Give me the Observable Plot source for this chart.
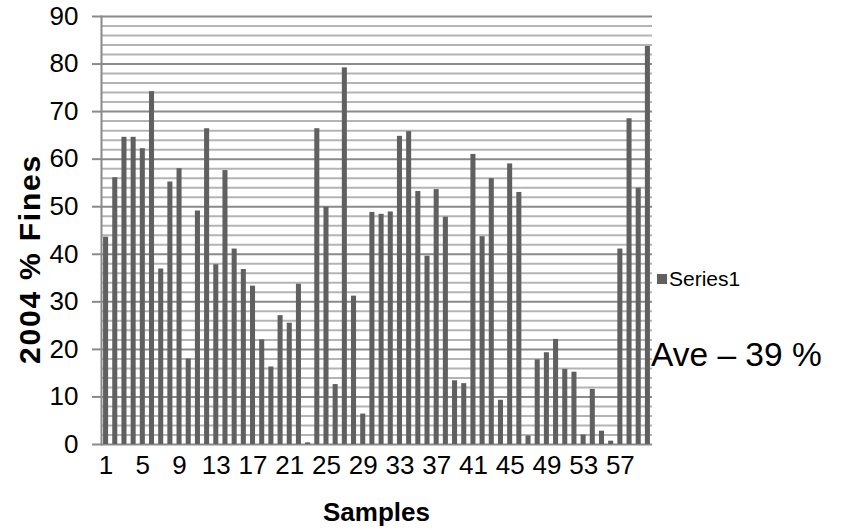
<!DOCTYPE html>
<html>
<head>
<meta charset="utf-8">
<script src="https://cdn.jsdelivr.net/npm/d3@7"></script>
<script src="https://cdn.jsdelivr.net/npm/@observablehq/plot@0.6"></script>
<style>
  html, body { margin: 0; padding: 0; background: #fff; }
  body { font-family: "Liberation Sans", Arial, sans-serif; }
  #wrap { position: relative; width: 858px; height: 530px; overflow: hidden; }
  #legend { position: absolute; left: 657px; top: 267px; font-size: 21px; line-height: 24px; color: #000; white-space: nowrap; }
  #legend .sw { display: inline-block; width: 10px; height: 10px; background: #606060; margin-right: 2px; vertical-align: 2px; }
  #ave { position: absolute; left: 651px; top: 336px; font-size: 33.5px; line-height: 38px; color: #000; white-space: nowrap; }
  #ytitle { position: absolute; left: 30px; top: 259px; transform: translate(-50%, -50%) rotate(-90deg);
            font-size: 30px; font-weight: bold; letter-spacing: 1.8px; white-space: nowrap; color: #000; line-height: 32px; }
  #xtitle { position: absolute; left: 376.5px; top: 512px; transform: translate(-50%, -50%);
            font-size: 26px; font-weight: bold; white-space: nowrap; color: #000; line-height: 30px; }
</style>
</head>
<body>
<div id="wrap"></div>
<script>
// ---- data ----
const samples = [1,2,3,4,5,6,7,8,9,10,11,12,13,14,15,16,17,18,19,20,
  21,22,23,24,25,26,27,28,29,30,31,32,33,34,35,36,37,38,39,40,
  41,42,43,44,45,46,47,48,49,50,51,52,53,54,55,56,57,58,59,60];
const fines2004 = [43.6,56.1,64.6,64.6,62.2,74.2,36.9,55.2,58.0,18.0,
  49.1,66.4,37.8,57.6,41.1,36.8,33.3,22.0,16.3,27.1,
  25.5,33.7,0.35,66.4,49.9,12.6,79.2,31.2,6.4,48.8,
  48.4,48.9,64.8,65.8,53.2,39.6,53.6,47.8,13.4,12.8,
  61.0,43.7,55.9,9.3,59.0,53.0,1.8,17.8,19.3,22.1,
  15.8,15.2,2.0,11.6,2.8,0.7,41.1,68.5,53.9,83.7];
const xTickLabels = [1,5,9,13,17,21,25,29,33,37,41,45,49,53,57];
const yTickLabels = [0,10,20,30,40,50,60,70,80,90];
const seriesName = "Series1";
const xTitle = "Samples";
const yTitle = "2004 % Fines";
const note = "Ave – 39 %";

const data = samples.map((s, i) => ({sample: s, value: fines2004[i]}));
const minorGrid = d3.range(2, 90, 2).filter(d => d % 10 !== 0);

const chart = Plot.plot({
  width: 858,
  height: 530,
  marginLeft: 101,
  marginRight: 206,
  marginTop: 16,
  marginBottom: 86,
  style: {fontFamily: "'Liberation Sans', Arial, sans-serif", fontSize: "26px", color: "#000", background: "#fff", overflow: "visible"},
  x: {type: "band", domain: samples, paddingInner: 0.45, paddingOuter: 0.225, round: false, label: null},
  y: {domain: [0, 90], label: null},
  marks: [
    Plot.ruleY(minorGrid, {stroke: "#b4b4b4", strokeWidth: 2}),
    Plot.ruleY(yTickLabels, {stroke: "#8a8a8a", strokeWidth: 2}),
    Plot.barY(data, {x: "sample", y: "value", fill: "#606060"}),
    Plot.frame({anchor: "left", stroke: "#8a8a8a", strokeWidth: 2}),
    Plot.axisY(yTickLabels, {tickSize: 9, tickPadding: 14, stroke: "#8a8a8a", strokeWidth: 2, fontSize: 26, label: null}),
    Plot.axisX(xTickLabels, {tickSize: 0, tickPadding: 11, fontSize: 26, label: null})
  ]
});

const wrap = document.getElementById("wrap");
wrap.appendChild(chart);
const add = (id, html) => { const d = document.createElement("div"); d.id = id; d.innerHTML = html; wrap.appendChild(d); };
add("legend", '<span class="sw"></span>' + seriesName);
add("ave", note);
add("ytitle", yTitle);
add("xtitle", xTitle);
</script>
</body>
</html>
